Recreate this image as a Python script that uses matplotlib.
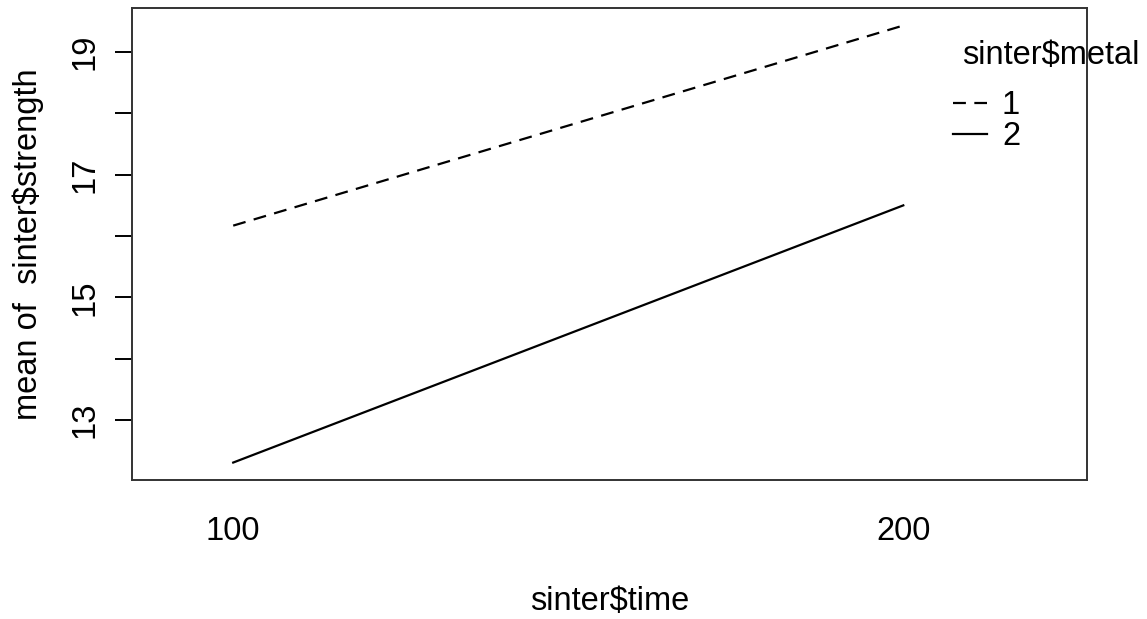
import matplotlib.pyplot as plt

# mean strength per sintering time, one series per metal
time_levels = ['100', '200']
metal_labels = ['1', '2']
mean_strength = {
    '1': [16.17, 19.43],
    '2': [12.31, 16.50],
}
line_styles = {'1': (0, (5.8, 3.8)), '2': '-'}

plt.rcParams['font.family'] = ['Liberation Sans', 'DejaVu Sans']
fs = 23.5

fig = plt.figure(figsize=(11.47, 6.19), dpi=100)
ax = fig.add_axes([0.1151, 0.2245, 0.8325, 0.7625])

x = [1, 2]
for m in metal_labels:
    ax.plot(x, mean_strength[m], color='black', lw=1.6, linestyle=line_styles[m], label=m)

# R style ranges: 4% padding on y, extra room on the right for the legend
allv = mean_strength['1'] + mean_strength['2']
lo, hi = min(allv), max(allv)
pad = 0.04 * (hi - lo)
ax.set_ylim(lo - pad, hi + pad)
ax.set_xlim(0.849, 2.274)

ax.set_xticks(x)
ax.set_xticklabels(time_levels)
ax.tick_params(axis='x', length=0, pad=26, labelsize=fs)
ax.set_yticks(range(13, 20))
ax.set_yticklabels([str(v) if v % 2 == 1 else '' for v in range(13, 20)],
                   rotation=90, va='center')
ax.tick_params(axis='y', length=12, width=1.4, pad=11, labelsize=fs)

for s in ax.spines.values():
    s.set_linewidth(1.4)
    s.set_color('#333333')

ax.set_xlabel('sinter$time', fontsize=fs, labelpad=28)
ax.set_ylabel('mean of  sinter$strength', fontsize=fs, labelpad=18)

# legend drawn partly outside the box, like R's interaction.plot
leg = ax.legend(loc='upper left', bbox_to_anchor=(0.8597, 0.826),
                frameon=False, fontsize=fs, handlelength=1.05,
                handletextpad=0.45, labelspacing=0.0, borderpad=0, borderaxespad=0)
leg.set_clip_on(False)
ax.text(0.869, 0.899, 'sinter$metal', transform=ax.transAxes, fontsize=fs,
        ha='left', va='center', clip_on=False)

fig.savefig('out.png', dpi=100)
